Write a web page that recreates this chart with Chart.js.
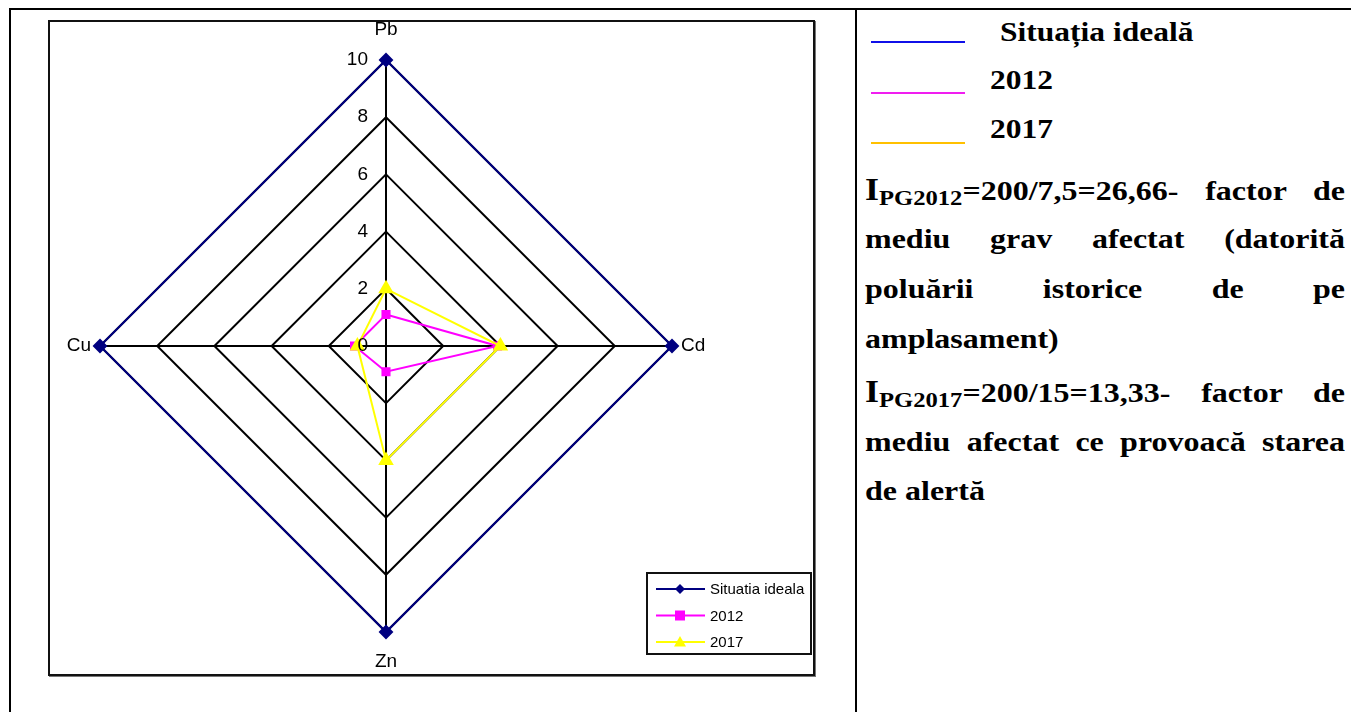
<!DOCTYPE html>
<html>
<head>
<meta charset="utf-8">
<title>Indicele de poluare globală – sol</title>
<script src="https://cdn.jsdelivr.net/npm/chart.js@4/dist/chart.umd.min.js"></script>
<style>
  html, body { margin: 0; padding: 0; background: #fff; }
  body { width: 1351px; height: 712px; overflow: hidden; position: relative; }
  .cellL { position: absolute; left: 9px; top: 8px; width: 1400px; height: 800px;
           border-left: 2px solid #000; border-top: 2px solid #000; }
  .divider { position: absolute; left: 855px; top: 8px; width: 2px; height: 800px; background: #000; }
  .box { position: absolute; left: 48px; top: 20px; width: 763px; height: 652px;
         border: 2px solid #111; box-shadow: 1px 1px 0 #777; }
  #wrap { position: absolute; left: 48px; top: 20px; width: 767px; height: 656px; }
  .txt { position: absolute; font-family: "Liberation Serif", "Times New Roman", serif;
         font-weight: bold; font-size: 31.5px; color: #000; height: 40px; line-height: 40px;
         white-space: nowrap; transform: scaleY(0.88); transform-origin: center; }
  .par { left: 865px; width: 480px; font-size: 32px; transform: scaleY(0.86); }
  .j { text-align: justify; text-align-last: justify; }
  .big { font-size: 1.12em; }
  .sb { font-size: 0.77em; position: relative; top: 0.22em; }
  .bar { position: absolute; left: 871px; width: 94px; height: 1.5px; }
</style>
</head>
<body>
<div class="cellL"></div>
<div class="divider"></div>
<div class="box"></div>
<div id="wrap"><canvas id="chart" width="767" height="656"></canvas></div>

<div class="bar" style="top:41px;background:#1010e8"></div>
<div class="txt" style="left:1000px;top:12px">Situația ideală</div>
<div class="bar" style="top:92px;background:#f01ef0"></div>
<div class="txt" style="left:990px;top:60px">2012</div>
<div class="bar" style="top:142px;background:#ffc000"></div>
<div class="txt" style="left:990px;top:109px">2017</div>

<div class="txt par j" style="top:170px"><span class="big">I</span><span class="sb">PG2012</span>=200/7,5=26,66- factor de</div>
<div class="txt par j" style="top:219px">mediu grav afectat (datorită</div>
<div class="txt par j" style="top:269px">poluării istorice de pe</div>
<div class="txt par" style="top:319px">amplasament)</div>
<div class="txt par j" style="top:372px"><span class="big">I</span><span class="sb">PG2017</span>=200/15=13,33- factor de</div>
<div class="txt par j" style="top:422px">mediu afectat ce provoacă starea</div>
<div class="txt par" style="top:471px">de alertă</div>

<script>
// Metals on the radar axes, clockwise from the top
const categories = ['Pb', 'Cd', 'Zn', 'Cu'];
const seriesNames = ['Situatia ideala', '2012', '2017'];
const idealValues = [10, 10, 10, 10];
const values2012 = [1.1, 3.9, 0.9, 1.1];
const values2017 = [2, 4, 4, 1];
const tickValues = [0, 2, 4, 6, 8, 10];

const labelFont = '19px "Liberation Sans", Arial, sans-serif';
const legendFont = '15px "Liberation Sans", Arial, sans-serif';

function marker(ctx, style, r, x, y, color) {
  ctx.save();
  ctx.fillStyle = color;
  ctx.beginPath();
  if (style === 'rectRot') {
    ctx.moveTo(x, y - r); ctx.lineTo(x + r, y); ctx.lineTo(x, y + r); ctx.lineTo(x - r, y);
  } else if (style === 'rect') {
    ctx.rect(x - r, y - r, 2 * r, 2 * r);
  } else {
    ctx.moveTo(x, y - r); ctx.lineTo(x + r, y + r * 0.75); ctx.lineTo(x - r, y + r * 0.75);
  }
  ctx.closePath();
  ctx.fill();
  ctx.restore();
}

// Axis titles, scale numbers and the boxed legend
const overlay = {
  id: 'overlay',
  afterDraw(chart) {
    const ctx = chart.ctx;
    const s = chart.scales.r;
    ctx.save();
    ctx.fillStyle = '#000';
    ctx.font = labelFont;
    ctx.textBaseline = 'middle';

    ctx.textAlign = 'right';
    tickValues.forEach(v => {
      const d = s.getDistanceFromCenterForValue(v);
      ctx.fillText(String(v), s.xCenter - 18, s.yCenter - d);
    });

    categories.forEach((c, i) => {
      const vertical = (i % 2 === 0);
      const p = s.getPointPosition(i, s.drawingArea + (vertical ? 30 : 9));
      ctx.textAlign = vertical ? 'center' : (p.x > s.xCenter ? 'left' : 'right');
      ctx.fillText(c, p.x, p.y);
    });

    // legend
    const bx = 599, by = 553, bw = 164, bh = 81;
    ctx.fillStyle = '#fff';
    ctx.fillRect(bx, by, bw, bh);
    ctx.strokeStyle = '#111';
    ctx.lineWidth = 2;
    ctx.strokeRect(bx, by, bw, bh);
    ctx.font = legendFont;
    ctx.textAlign = 'left';
    chart.data.datasets.forEach((ds, k) => {
      const y = by + 16 + k * 26.5;
      ctx.strokeStyle = ds.borderColor;
      ctx.lineWidth = 2;
      ctx.beginPath();
      ctx.moveTo(bx + 9, y);
      ctx.lineTo(bx + 58, y);
      ctx.stroke();
      marker(ctx, ds.pointStyle, k === 2 ? 6 : 5, bx + 33, y, ds.borderColor);
      ctx.fillStyle = '#000';
      ctx.fillText(ds.label, bx + 63, y + 1);
    });
    ctx.restore();
  }
};

new Chart(document.getElementById('chart'), {
  type: 'radar',
  data: {
    labels: categories,
    datasets: [
      { label: seriesNames[0], data: idealValues, order: 2, borderColor: '#000080',
        pointBackgroundColor: '#000080', pointBorderColor: '#000080',
        pointStyle: 'rectRot', pointRadius: 6, borderWidth: 2, fill: false },
      { label: seriesNames[1], data: values2012, order: 1, borderColor: '#ff00ff',
        pointBackgroundColor: '#ff00ff', pointBorderColor: '#ff00ff',
        pointStyle: 'rect', pointRadius: 5, borderWidth: 2, fill: false },
      { label: seriesNames[2], data: values2017, order: 0, borderColor: '#ffff00',
        pointBackgroundColor: '#ffff00', pointBorderColor: '#ffff00',
        pointStyle: 'triangle', pointRadius: 7, borderWidth: 2, fill: false }
    ]
  },
  options: {
    responsive: false,
    animation: false,
    layout: { padding: { left: 52, top: 40, right: 143, bottom: 44 } },
    elements: { line: { tension: 0 } },
    plugins: { legend: { display: false }, tooltip: { enabled: false } },
    scales: {
      r: {
        min: 0, max: 10,
        ticks: { stepSize: 2, display: false },
        grid: { color: '#000', lineWidth: 2 },
        angleLines: { color: '#000', lineWidth: 2 },
        pointLabels: { display: false }
      }
    }
  },
  plugins: [overlay]
});
</script>
</body>
</html>
